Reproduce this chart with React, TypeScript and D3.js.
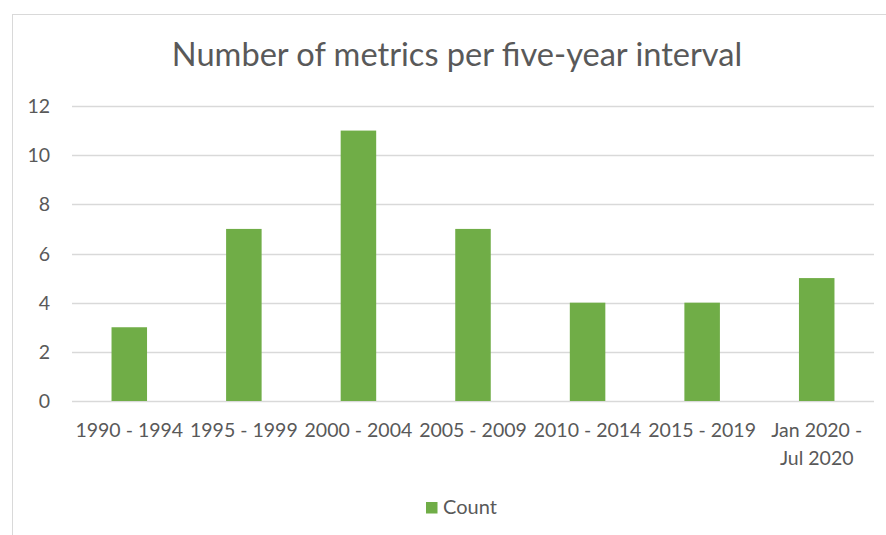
import * as d3 from 'd3'
import { useEffect, useRef } from 'react'

// chart data
const categories = [
  ['1990 - 1994'],
  ['1995 - 1999'],
  ['2000 - 2004'],
  ['2005 - 2009'],
  ['2010 - 2014'],
  ['2015 - 2019'],
  ['Jan 2020 -', 'Jul 2020'],
]
const counts = [3, 7, 11, 7, 4, 4, 5]
const yTicks = [0, 2, 4, 6, 8, 10, 12]
const title = 'Number of metrics per five-year interval'
const seriesName = 'Count'

const FONT = 'Lato, "Open Sans", sans-serif'
const TEXT = '#595959'
const GRID = '#d9d9d9'
const GREEN = '#70ad47'

export default function App() {
  const svgRef = useRef<SVGSVGElement>(null)

  useEffect(() => {
    if (!svgRef.current) return
    const width = 886
    const height = 535
    const plot = { left: 72, right: 874, top: 106, bottom: 401 }

    const svg = d3.select(svgRef.current)
    svg.selectAll('*').remove()
    svg.attr('width', width).attr('height', height)

    // chart frame (runs off the right/bottom edge)
    svg
      .append('rect')
      .attr('x', 12.5)
      .attr('y', 14.5)
      .attr('width', 1000)
      .attr('height', 1000)
      .attr('fill', 'white')
      .attr('stroke', GRID)

    const labels = categories.map((c) => c.join(' '))
    const x = d3
      .scaleBand<string>()
      .domain(labels)
      .range([plot.left, plot.right])
      .paddingInner(0.69)
      .paddingOuter(0.345)

    const y = d3.scaleLinear().domain([0, 12]).range([plot.bottom, plot.top])

    // title
    svg
      .append('text')
      .attr('x', 457)
      .attr('y', 66)
      .attr('text-anchor', 'middle')
      .attr('font-family', FONT)
      .attr('font-size', 32.6)
      .attr('fill', TEXT)
      .text(title)

    // gridlines
    svg
      .append('g')
      .selectAll('line')
      .data(yTicks)
      .join('line')
      .attr('x1', plot.left)
      .attr('x2', plot.right)
      .attr('y1', (d) => Math.round(y(d)) + 0.5)
      .attr('y2', (d) => Math.round(y(d)) + 0.5)
      .attr('stroke', GRID)
      .attr('stroke-width', 1.3)

    // y tick labels
    svg
      .append('g')
      .selectAll('text')
      .data(yTicks)
      .join('text')
      .attr('x', 50)
      .attr('y', (d) => y(d) + 7)
      .attr('text-anchor', 'end')
      .attr('font-family', FONT)
      .attr('font-size', 19.5)
      .attr('fill', TEXT)
      .text((d) => String(d))

    // bars
    svg
      .append('g')
      .selectAll('rect')
      .data(counts)
      .join('rect')
      .attr('x', (_, i) => x(labels[i]) as number)
      .attr('y', (d) => y(d))
      .attr('width', x.bandwidth())
      .attr('height', (d) => y(0) - y(d))
      .attr('fill', GREEN)

    // x labels
    const xl = svg
      .append('g')
      .selectAll('text')
      .data(categories)
      .join('text')
      .attr('x', (_, i) => (x(labels[i]) as number) + x.bandwidth() / 2)
      .attr('y', 437)
      .attr('text-anchor', 'middle')
      .attr('font-family', FONT)
      .attr('font-size', 19.5)
      .attr('fill', TEXT)
    xl.each(function (d, i) {
      const t = d3.select(this)
      d.forEach((line, j) => {
        t.append('tspan')
          .attr('x', (x(labels[i]) as number) + x.bandwidth() / 2)
          .attr('dy', j === 0 ? 0 : 28)
          .text(line)
      })
    })

    // legend
    const legend = svg.append('g')
    legend
      .append('rect')
      .attr('x', 426)
      .attr('y', 502)
      .attr('width', 11.5)
      .attr('height', 11.5)
      .attr('fill', GREEN)
    legend
      .append('text')
      .attr('x', 443)
      .attr('y', 514)
      .attr('font-family', FONT)
      .attr('font-size', 20)
      .attr('fill', TEXT)
      .text(seriesName)
  }, [])

  return (
    <svg
      ref={svgRef}
      style={{ position: 'absolute', left: 0, top: 0, display: 'block' }}
    />
  )
}
